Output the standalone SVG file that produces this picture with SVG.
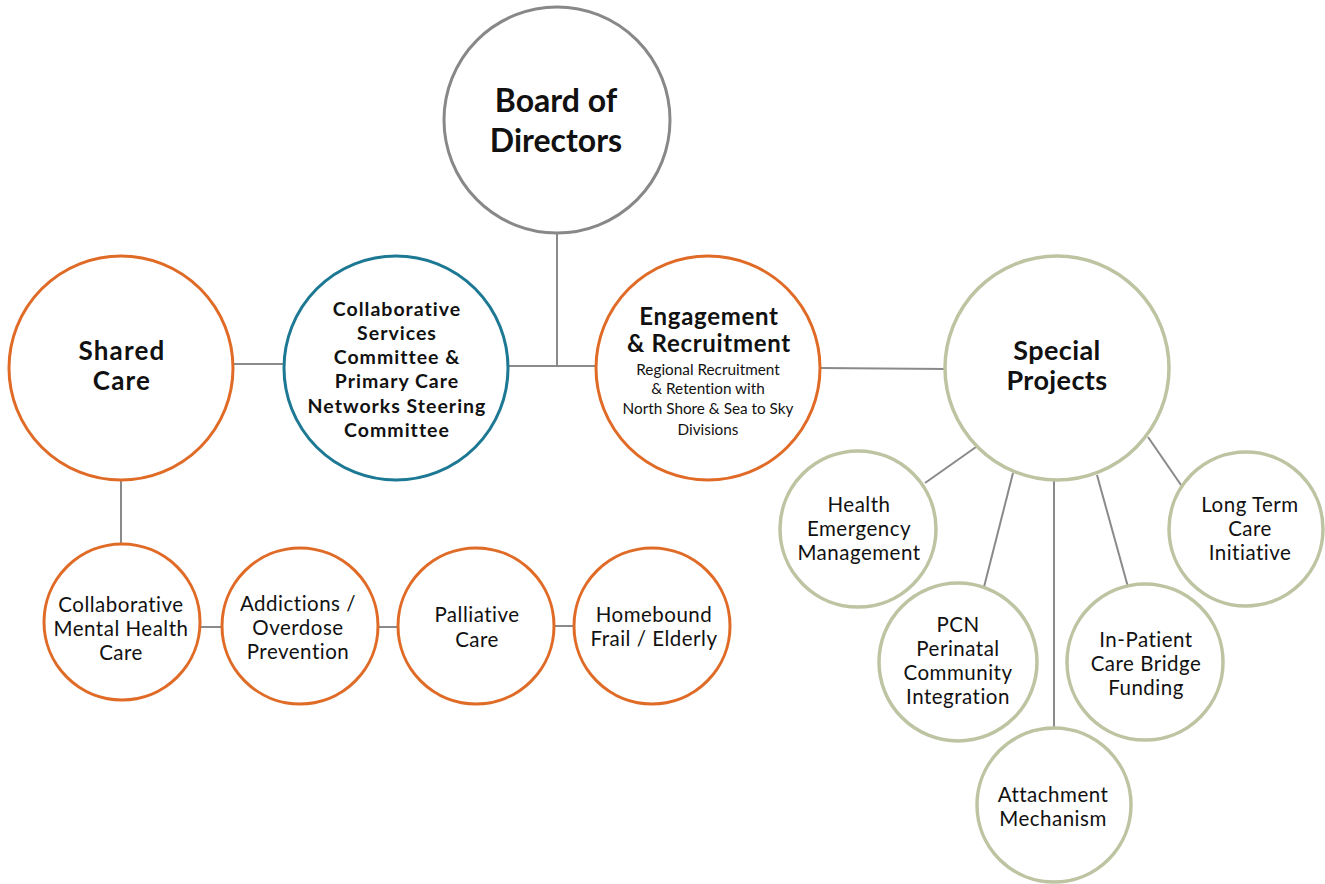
<svg xmlns="http://www.w3.org/2000/svg" width="1325" height="884" viewBox="0 0 1325 884">
<style>
.bg{fill:#ffffff}
.conn{stroke:#8a8a8a;stroke-width:2;fill:none}
.gray{fill:#fff;stroke:#888888;stroke-width:3}
.orange{fill:#fff;stroke:#E06B27;stroke-width:3}
.teal{fill:#fff;stroke:#1D7893;stroke-width:3}
.sage{fill:#fff;stroke:#BDC4A2;stroke-width:3.5}
text{font-family:Lato,"Open Sans","Liberation Sans",sans-serif;fill:#111;text-anchor:middle;font-variant-ligatures:none;font-feature-settings:"liga" 0}
.b{font-weight:700}
.r{font-weight:400;font-size:20.5px;letter-spacing:0.5px}
.s{font-weight:400;font-size:15.3px}
.c{font-weight:700;font-size:19.5px;letter-spacing:1px}
.e{font-weight:700;font-size:24px;letter-spacing:0.7px}
</style>
<rect class="bg" x="0" y="0" width="1325" height="884"/>
<g id="connectors">
<path class="conn" d="M557 233 V366"/>
<path class="conn" d="M508 366 H597"/>
<path class="conn" d="M233 364 H284"/>
<path class="conn" d="M820 368 L946 369"/>
<path class="conn" d="M121 480 V544"/>
<path class="conn" d="M200 627 H222"/>
<path class="conn" d="M377 627 H399"/>
<path class="conn" d="M553 626 H574"/>
<path class="conn" d="M976 447 L925 483"/>
<path class="conn" d="M1013 473 L984 587"/>
<path class="conn" d="M1054 480 V727"/>
<path class="conn" d="M1097 475 L1128 587"/>
<path class="conn" d="M1148 437 L1181 485"/>
</g>
<g id="board">
<circle class="gray" cx="557" cy="120" r="113"/>
<text class="b" font-size="32" x="556" y="112">Board of</text>
<text class="b" font-size="32" x="556" y="152">Directors</text>
</g>
<g id="shared-care">
<circle class="orange" cx="121" cy="368" r="112"/>
<text class="b" font-size="26" letter-spacing="1.2" x="122" y="360">Shared</text>
<text class="b" font-size="26" letter-spacing="1.2" x="122" y="390">Care</text>
</g>
<g id="collaborative-services">
<circle class="teal" cx="396" cy="368" r="112"/>
<text class="c" x="397" y="316">Collaborative</text>
<text class="c" x="397" y="340">Services</text>
<text class="c" x="397" y="364">Committee &amp;</text>
<text class="c" x="397" y="388">Primary Care</text>
<text class="c" x="397" y="413">Networks Steering</text>
<text class="c" x="397" y="437">Committee</text>
</g>
<g id="engagement">
<circle class="orange" cx="708" cy="368" r="112"/>
<text class="e" x="709" y="325">Engagement</text>
<text class="e" x="709" y="352">&amp; Recruitment</text>
<text class="s" x="708" y="375">Regional Recruitment</text>
<text class="s" x="708" y="394">&amp; Retention with</text>
<text class="s" x="708" y="414">North Shore &amp; Sea to Sky</text>
<text class="s" x="708" y="435">Divisions</text>
</g>
<g id="special-projects">
<circle class="sage" cx="1057" cy="368" r="112"/>
<text class="b" font-size="27" letter-spacing="0.4" x="1057" y="360">Special</text>
<text class="b" font-size="27" letter-spacing="0.4" x="1057" y="390">Projects</text>
</g>
<g id="health-emergency">
<circle class="sage" cx="858" cy="529" r="78"/>
<text class="r" x="859" y="512">Health</text>
<text class="r" x="859" y="536">Emergency</text>
<text class="r" x="859" y="560">Management</text>
</g>
<g id="long-term-care">
<circle class="sage" cx="1246" cy="529" r="77"/>
<text class="r" x="1250" y="512">Long Term</text>
<text class="r" x="1250" y="536">Care</text>
<text class="r" x="1250" y="560">Initiative</text>
</g>
<g id="pcn-perinatal">
<circle class="sage" cx="958" cy="662" r="79"/>
<text class="r" x="958" y="632">PCN</text>
<text class="r" x="958" y="656">Perinatal</text>
<text class="r" x="958" y="680">Community</text>
<text class="r" x="958" y="704">Integration</text>
</g>
<g id="in-patient">
<circle class="sage" cx="1145" cy="662" r="78"/>
<text class="r" x="1146" y="647">In-Patient</text>
<text class="r" x="1146" y="671">Care Bridge</text>
<text class="r" x="1146" y="695">Funding</text>
</g>
<g id="attachment">
<circle class="sage" cx="1054" cy="805" r="77"/>
<text class="r" x="1053" y="802">Attachment</text>
<text class="r" x="1053" y="826">Mechanism</text>
</g>
<g id="collaborative-mental-health">
<circle class="orange" cx="122" cy="622" r="78"/>
<text class="r" x="121" y="612">Collaborative</text>
<text class="r" x="121" y="636">Mental Health</text>
<text class="r" x="121" y="660">Care</text>
</g>
<g id="addictions">
<circle class="orange" cx="300" cy="626" r="78"/>
<text class="r" x="298" y="611">Addictions /</text>
<text class="r" x="298" y="635">Overdose</text>
<text class="r" x="298" y="659">Prevention</text>
</g>
<g id="palliative">
<circle class="orange" cx="476" cy="626" r="78"/>
<text class="r" x="477" y="622">Palliative</text>
<text class="r" x="477" y="647">Care</text>
</g>
<g id="homebound">
<circle class="orange" cx="652" cy="626" r="78"/>
<text class="r" x="654" y="622">Homebound</text>
<text class="r" x="654" y="646">Frail / Elderly</text>
</g>
</svg>
